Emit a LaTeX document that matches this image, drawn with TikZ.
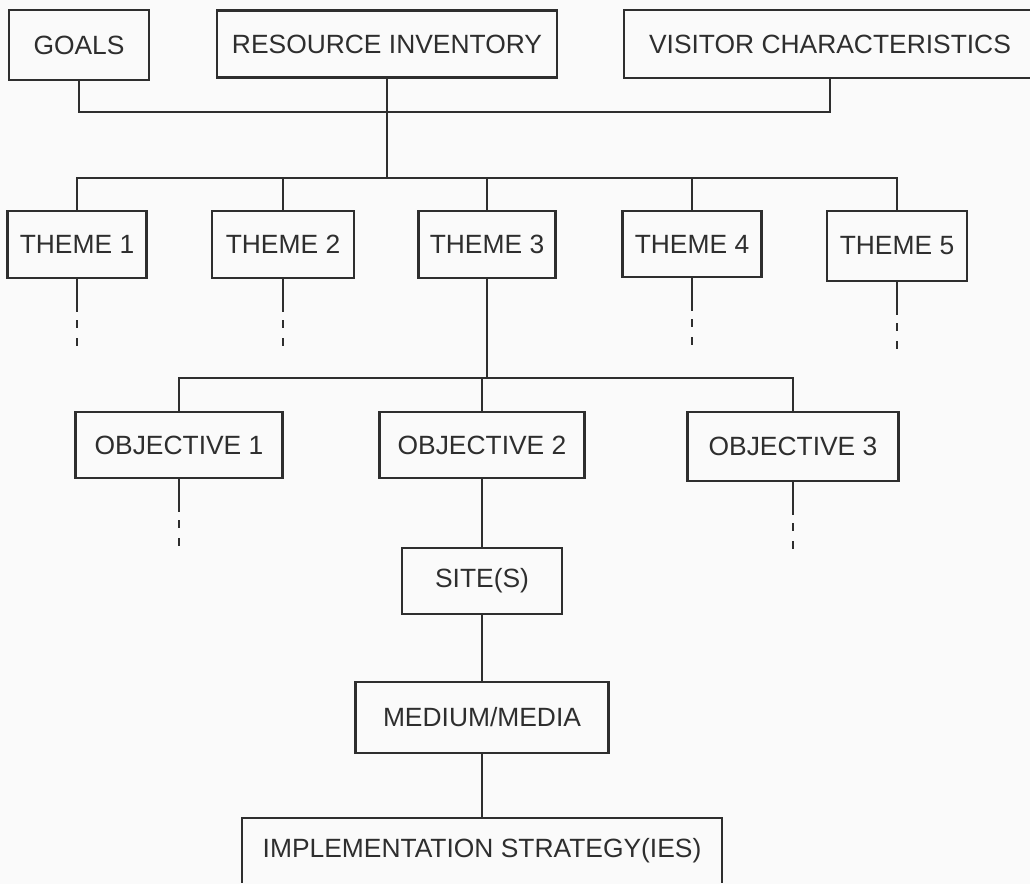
\documentclass[tikz,border=0pt]{standalone}
\usepackage{fontspec}
\setmainfont{Liberation Sans}
\definecolor{ink}{HTML}{2E2E2E}
\definecolor{paper}{HTML}{FAFAFA}
\begin{document}
\begin{tikzpicture}[x=0.5pt,y=-0.5pt,
  box/.style={draw=ink, line width=1.4pt, rectangle, inner sep=0pt,
    text=ink, font=\fontsize{13.2pt}{15pt}\selectfont},
  link/.style={draw=ink, line width=1.4pt},
  tail/.style={link, dash pattern=on 16.5pt off 4pt on 4pt off 5pt on 4pt off 20pt}]
\useasboundingbox (0,0) rectangle (1030,884);
\fill[paper] (0,0) rectangle (1030,884);
\clip (0,0) rectangle (1030,882);

% top level inputs
\node[box, minimum width=70pt,  minimum height=35pt]   (goals) at (79,45)  {GOALS};
\node[box, minimum width=170pt, minimum height=33.5pt] (ri)    at (387,44) {RESOURCE INVENTORY};
\node[box, minimum width=206pt, minimum height=34pt]   (vc)    at (830,44) {VISITOR CHARACTERISTICS};

% themes
\node[box, minimum width=69.5pt, minimum height=33.5pt] (t1) at (77,244.5)  {THEME 1};
\node[box, minimum width=71pt,   minimum height=33.5pt] (t2) at (283,244.5) {THEME 2};
\node[box, minimum width=68.5pt, minimum height=33.5pt] (t3) at (487,244.5) {THEME 3};
\node[box, minimum width=69.5pt, minimum height=33pt]   (t4) at (692,244)   {THEME 4};
\node[box, minimum width=70pt,   minimum height=35pt]   (t5) at (897,246)   {THEME 5};

% objectives
\node[box, minimum width=103.5pt, minimum height=33pt]   (o1) at (179,445)   {OBJECTIVE 1};
\node[box, minimum width=102.5pt, minimum height=33pt]   (o2) at (482,445)   {OBJECTIVE 2};
\node[box, minimum width=105.5pt, minimum height=34.5pt] (o3) at (793,446.5) {OBJECTIVE 3};

% planning chain
\node[box, minimum width=80pt,    minimum height=33pt]   (site)  at (482,581)   {SITE(S)};
\node[box, minimum width=126.5pt, minimum height=35.5pt] (media) at (482,717.5) {MEDIUM/MEDIA};
\node[box, minimum width=240pt,   minimum height=33pt]   (ies)   at (482,851)   {IMPLEMENTATION STRATEGY(IES)};

% junctions
\coordinate (j1) at (387,112);
\coordinate (j2) at (387,178);
\coordinate (j3) at (487,378);

% inputs merge
\draw[link] (goals.south) |- (j1);
\draw[link] (vc.south) |- (j1);
\draw[link] (ri.south) -- (j2);

% theme bus
\draw[link] (t1.north) |- (j2);
\draw[link] (t5.north) |- (j2);
\draw[link] (t2.north) -- (t2.north |- j2);
\draw[link] (t3.north) -- (t3.north |- j2);
\draw[link] (t4.north) -- (t4.north |- j2);

% objective bus
\draw[link] (t3.south) -- (j3);
\draw[link] (o1.north) |- (j3);
\draw[link] (o3.north) |- (j3);
\draw[link] (o2.north) -- (o2.north |- j3);

% continuation tails
\draw[tail] (t1.south) -- ++(0,68);
\draw[tail] (t2.south) -- ++(0,68);
\draw[tail] (t4.south) -- ++(0,68);
\draw[tail] (t5.south) -- ++(0,68);
\draw[tail] (o1.south) -- ++(0,68);
\draw[tail] (o3.south) -- ++(0,68);

% chain links
\draw[link] (o2.south) -- (site.north);
\draw[link] (site.south) -- (media.north);
\draw[link] (media.south) -- (ies.north);
\end{tikzpicture}
\end{document}
